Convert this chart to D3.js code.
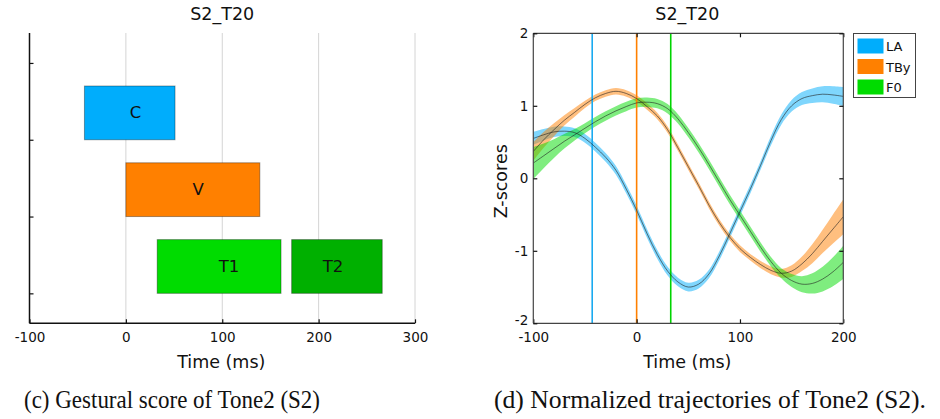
<!DOCTYPE html>
<html>
<head>
<meta charset="utf-8">
<script src="https://cdn.jsdelivr.net/npm/d3@7"></script>
<style>
  html, body { margin: 0; padding: 0; background: #fff; }
  svg { display: block; }
  text { font-family: "DejaVu Sans", Verdana, sans-serif; fill: #111; }
</style>
</head>
<body>
<svg id="chart" width="940" height="419"></svg>
<script>
// ---------- Data: gestural score (left panel) ----------
const gestures   = ["C", "V", "T1", "T2"];
const tiers      = [2, 1, 0, 0];            // row index (0 = bottom row)
const onsets     = [-43, 0, 32.5, 172];
const offsets    = [51, 139, 161, 266];
const labelTimes = [10, 75, 107, 215];
const gestureColors = ["#00adfc", "#ff8000", "#00dc00", "#00b000"];
const scoreXTicks = [-100, 0, 100, 200, 300];
const scoreYTicks = [0, 1, 2, 3];

// ---------- Data: normalized trajectories (right panel) ----------
const times = [-100,-90,-80,-70,-60,-50,-40,-30,-20,-10,0,10,20,30,40,50,60,70,80,90,100,110,120,130,140,150,160,170,180,190,200];
const seriesNames = ["LA", "TBy", "F0"];
const laMean  = [0.55,0.60,0.64,0.65,0.63,0.55,0.43,0.29,0.11,-0.15,-0.44,-0.76,-1.05,-1.28,-1.43,-1.50,-1.46,-1.32,-1.07,-0.77,-0.46,-0.15,0.18,0.52,0.81,1.00,1.10,1.14,1.16,1.15,1.13];
const laErr   = [0.09,0.08,0.07,0.065,0.06,0.06,0.06,0.06,0.06,0.06,0.06,0.06,0.06,0.06,0.06,0.06,0.06,0.06,0.06,0.06,0.06,0.06,0.06,0.065,0.07,0.08,0.09,0.10,0.11,0.12,0.13];
const tbyMean = [0.37,0.53,0.67,0.80,0.91,1.02,1.11,1.17,1.20,1.17,1.10,0.99,0.86,0.67,0.42,0.16,-0.10,-0.37,-0.61,-0.81,-0.97,-1.09,-1.19,-1.27,-1.31,-1.28,-1.18,-1.04,-0.87,-0.70,-0.53];
const tbyErr  = [0.13,0.11,0.09,0.07,0.06,0.05,0.045,0.045,0.045,0.045,0.045,0.045,0.045,0.045,0.045,0.045,0.045,0.045,0.045,0.045,0.045,0.045,0.05,0.055,0.06,0.08,0.10,0.13,0.16,0.20,0.24];
const f0Mean  = [0.21,0.31,0.41,0.51,0.60,0.69,0.78,0.86,0.93,0.99,1.04,1.05,1.03,0.96,0.82,0.63,0.42,0.19,-0.05,-0.29,-0.51,-0.73,-0.95,-1.15,-1.31,-1.41,-1.46,-1.45,-1.39,-1.29,-1.16];
const f0Err   = [0.22,0.17,0.13,0.10,0.08,0.07,0.065,0.065,0.065,0.065,0.065,0.065,0.065,0.065,0.065,0.065,0.065,0.065,0.065,0.065,0.065,0.065,0.065,0.065,0.07,0.09,0.11,0.14,0.17,0.20,0.23];
const seriesColors = ["#00adfc", "#ff8000", "#00dc00"];
const markerTimes  = [-43, 0, 33];           // gesture onsets marked by vertical lines
const trajXTicks = [-100, 0, 100, 200];
const trajYTicks = [-2, -1, 0, 1, 2];

const svg = d3.select("#chart");
const fmt = d => String(d);   // plain hyphen-minus like the reference

// ================= LEFT PANEL =================
(function () {
  const L = 29.5, R = 415, T = 33, B = 323.3;
  const x = d3.scaleLinear().domain([-100, 300]).range([L, R]);
  const y = d3.scaleLinear().domain([-0.39, 3.39]).range([B, T]);
  const g = svg.append("g");

  g.selectAll("line.grid").data(scoreXTicks.filter(d => d > -100)).enter().append("line")
    .attr("x1", d => x(d)).attr("x2", d => x(d)).attr("y1", T).attr("y2", B)
    .attr("stroke", "#d4d4d4").attr("stroke-width", 1);

  const bars = gestures.map((name, i) => ({name, tier: tiers[i], on: onsets[i], off: offsets[i], lx: labelTimes[i], color: gestureColors[i]}));
  g.selectAll("rect.bar").data(bars).enter().append("rect")
    .attr("x", d => x(d.on)).attr("width", d => x(d.off) - x(d.on))
    .attr("y", d => y(d.tier + 0.7)).attr("height", d => y(d.tier) - y(d.tier + 0.7))
    .attr("fill", d => d.color).attr("stroke", "rgba(0,0,0,0.35)").attr("stroke-width", 1);
  g.selectAll("text.blab").data(bars).enter().append("text")
    .attr("x", d => x(d.lx)).attr("y", d => y(d.tier + 0.35))
    .attr("text-anchor", "middle").attr("dominant-baseline", "central")
    .attr("font-size", 16.5).text(d => d.name);

  const xAxis = d3.axisBottom(x).tickValues(scoreXTicks).tickSize(-4).tickPadding(9).tickFormat(fmt);
  const gx = g.append("g").attr("transform", `translate(0,${B})`).call(xAxis);
  const yAxis = d3.axisLeft(y).tickValues(scoreYTicks).tickSize(-4).tickFormat("");
  const gy = g.append("g").attr("transform", `translate(${L},0)`).call(yAxis);
  [gx, gy].forEach(a => {
    a.select(".domain").attr("stroke", "#111").attr("stroke-width", 1.5);
    a.selectAll(".tick line").attr("stroke", "#111").attr("stroke-width", 1.2);
    a.selectAll("text").attr("font-size", 13.5).attr("fill", "#111")
      .attr("font-family", "DejaVu Sans, sans-serif");
  });
  gx.select(".domain").attr("d", `M${L},0H${R}`);
  gy.select(".domain").attr("d", `M0,${T}V${B}`);

  g.append("text").attr("x", (L + R) / 2).attr("y", 14).attr("text-anchor", "middle")
    .attr("dominant-baseline", "central").attr("font-size", 17.5).text("S2_T20");
  g.append("text").attr("x", (L + R) / 2 - 1).attr("y", 362).attr("text-anchor", "middle")
    .attr("dominant-baseline", "central").attr("font-size", 17.5).text("Time (ms)");
})();

// ================= RIGHT PANEL =================
(function () {
  const L = 533.3, R = 843.3, T = 33.3, B = 323.3;
  const x = d3.scaleLinear().domain([-100, 200]).range([L, R]);
  const y = d3.scaleLinear().domain([-2, 2]).range([B, T]);
  const g = svg.append("g");

  svg.append("defs").append("clipPath").attr("id", "trajclip")
    .append("rect").attr("x", L).attr("y", T).attr("width", R - L).attr("height", B - T);

  const series = [
    {name: seriesNames[0], mean: laMean,  err: laErr,  color: seriesColors[0]},
    {name: seriesNames[1], mean: tbyMean, err: tbyErr, color: seriesColors[1]},
    {name: seriesNames[2], mean: f0Mean,  err: f0Err,  color: seriesColors[2]}
  ];
  const pts = s => times.map((t, i) => ({t, m: s.mean[i], e: s.err[i]}));

  const curve = d3.curveCatmullRom.alpha(0.5);
  const area = d3.area().curve(curve)
    .x(d => x(d.t)).y0(d => y(d.m - d.e)).y1(d => y(d.m + d.e));
  const line = d3.line().curve(curve).x(d => x(d.t)).y(d => y(d.m));

  const plot = g.append("g").attr("clip-path", "url(#trajclip)");
  plot.selectAll("path.band").data(series).enter().append("path")
    .attr("d", s => area(pts(s))).attr("fill", s => s.color).attr("fill-opacity", 0.5);

  plot.selectAll("line.mark").data(markerTimes).enter().append("line")
    .attr("x1", d => x(d)).attr("x2", d => x(d)).attr("y1", T).attr("y2", B)
    .attr("stroke", (d, i) => ["#1aaaf0", "#ff8000", "#00d400"][i]).attr("stroke-width", 1.6);

  plot.selectAll("path.mean").data(series).enter().append("path")
    .attr("d", s => line(pts(s))).attr("fill", "none").attr("stroke", "#222").attr("stroke-width", 0.6);

  const frameColor = "#444";
  const axB = d3.axisBottom(x).tickValues(trajXTicks).tickSize(-4).tickPadding(9).tickFormat(fmt);
  const axT = d3.axisTop(x).tickValues(trajXTicks).tickSize(-4).tickFormat("");
  const axL = d3.axisLeft(y).tickValues(trajYTicks).tickSize(-4).tickPadding(5).tickFormat(fmt);
  const axR = d3.axisRight(y).tickValues(trajYTicks).tickSize(-4).tickFormat("");
  const gb = g.append("g").attr("transform", `translate(0,${B})`).call(axB);
  const gt = g.append("g").attr("transform", `translate(0,${T})`).call(axT);
  const gl = g.append("g").attr("transform", `translate(${L},0)`).call(axL);
  const gr = g.append("g").attr("transform", `translate(${R},0)`).call(axR);
  [gb, gt, gl, gr].forEach(a => {
    a.select(".domain").attr("stroke", frameColor).attr("stroke-width", 1.2);
    a.selectAll(".tick line").attr("stroke", "#111").attr("stroke-width", 1.2);
    a.selectAll("text").attr("font-size", 13.5).attr("fill", "#111")
      .attr("font-family", "DejaVu Sans, sans-serif");
  });
  gb.select(".domain").attr("d", `M${L},0H${R}`);
  gt.select(".domain").attr("d", `M${L},0H${R}`);
  gl.select(".domain").attr("d", `M0,${T}V${B}`);
  gr.select(".domain").attr("d", `M0,${T}V${B}`);
  gl.selectAll(".tick text").filter(d => d === -2).attr("dy", "0.1em");

  g.append("text").attr("x", (L + R) / 2 - 1).attr("y", 14).attr("text-anchor", "middle")
    .attr("dominant-baseline", "central").attr("font-size", 17.5).text("S2_T20");
  g.append("text").attr("x", (L + R) / 2 - 1).attr("y", 362).attr("text-anchor", "middle")
    .attr("dominant-baseline", "central").attr("font-size", 17.5).text("Time (ms)");
  g.append("text").attr("transform", `translate(501,${(T + B) / 2 + 3}) rotate(-90)`)
    .attr("text-anchor", "middle").attr("dominant-baseline", "central")
    .attr("font-size", 17.5).text("Z-scores");

  const lg = g.append("g");
  lg.append("rect").attr("x", 853.5).attr("y", 33.5).attr("width", 62).attr("height", 64)
    .attr("fill", "#fff").attr("stroke", "#444").attr("stroke-width", 1);
  series.forEach((s, i) => {
    const cy = 46 + i * 20.5;
    lg.append("rect").attr("x", 857.5).attr("y", cy - 7.5).attr("width", 26).attr("height", 15).attr("fill", s.color);
    lg.append("text").attr("x", 886).attr("y", cy + 0.5).attr("dominant-baseline", "central")
      .attr("font-size", 13).text(s.name);
  });
})();

// ================= CAPTIONS =================
const captions = [
  {text: "(c) Gestural score of Tone2 (S2)", x0: 24, x1: 320},
  {text: "(d) Normalized trajectories of Tone2 (S2).", x0: 494, x1: 926}
];
svg.selectAll("text.cap").data(captions).enter().append("text")
  .attr("x", d => d.x0).attr("y", 408)
  .style("font-family", "'Liberation Serif', 'Times New Roman', serif")
  .attr("font-size", 25).attr("textLength", d => d.x1 - d.x0).attr("lengthAdjust", "spacingAndGlyphs")
  .text(d => d.text);
</script>
</body>
</html>
